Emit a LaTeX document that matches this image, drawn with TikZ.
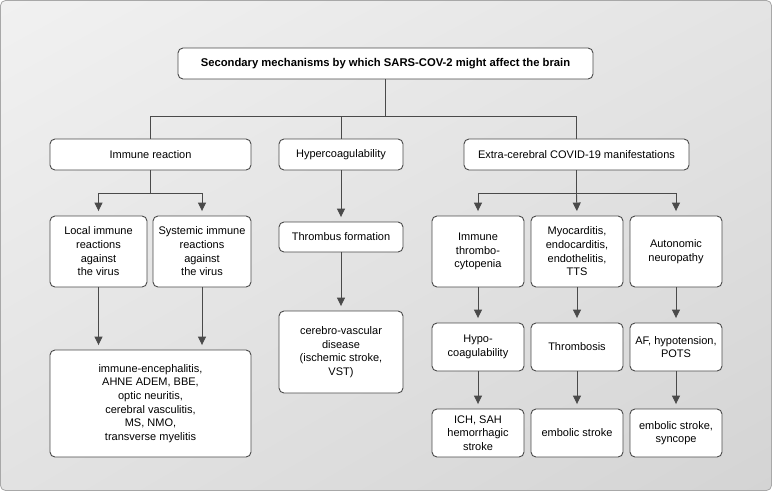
\documentclass[tikz,border=0pt]{standalone}
\usepackage{fontspec}
\setmainfont{Liberation Sans}
\usetikzlibrary{arrows.meta,shadings}
\definecolor{edge}{HTML}{4A4A4A}
\definecolor{bgul}{HTML}{F1F1F1}
\definecolor{bgur}{HTML}{E4E4E4}
\definecolor{bgll}{HTML}{E2E2E2}
\definecolor{bglr}{HTML}{D4D4D4}
\definecolor{frame}{HTML}{A8A8A8}
\tikzset{
  box/.style={draw=edge, line width=0.9pt, fill=white, rounded corners=5pt, align=center,
    inner sep=2pt, font=\fontsize{11}{13.7}\selectfont},
  ln/.style={draw=edge, line width=0.9pt},
  arr/.style={ln, -{Triangle[width=8pt,length=8.5pt]}, shorten >=4.5pt},
}
\begin{document}
\begin{tikzpicture}[x=1pt,y=-1pt]
\useasboundingbox (0,0) rectangle (772,491);
\shade[rounded corners=5pt, upper left=bgul, upper right=bgur, lower left=bgll, lower right=bglr]
  (0.5,0.5) rectangle (771.5,490.5);
\draw[rounded corners=5pt, draw=frame, line width=0.8pt] (0.5,0.5) rectangle (771.5,490.5);

\node[box, minimum width=415pt, minimum height=31pt, font=\fontsize{11.25}{13.7}\selectfont\bfseries] (top) at (385.5,63.5)
  {Secondary mechanisms by which SARS-COV-2 might affect the brain};

\node[box, minimum width=201pt, minimum height=31pt] (imm) at (150.5,154.5) {Immune reaction};
\node[box, minimum width=124pt, minimum height=31pt] (hyp) at (341,154.5) {Hypercoagulability};
\node[box, minimum width=225pt, minimum height=31pt] (ext) at (576.5,154.5) {Extra-cerebral COVID-19 manifestations};

\node[box, minimum width=97pt, minimum height=71pt] (loc) at (98.5,251.5) {Local immune\\reactions\\against\\the virus};
\node[box, minimum width=98pt, minimum height=71pt] (sys) at (202,251.5) {Systemic immune\\reactions\\against\\the virus};
\node[box, minimum width=201pt, minimum height=107pt] (out1) at (150.5,403.5)
  {immune-encephalitis,\\AHNE ADEM, BBE,\\optic neuritis,\\cerebral vasculitis,\\MS, NMO,\\transverse myelitis};

\node[box, minimum width=124pt, minimum height=30pt] (thr) at (341,237) {Thrombus formation};
\node[box, minimum width=124pt, minimum height=82pt] (cer) at (341,352) {cerebro-vascular\\disease\\(ischemic stroke,\\VST)};

\node[box, minimum width=92pt, minimum height=71pt] (a1) at (478,251.5) {Immune\\thrombo-\\cytopenia};
\node[box, minimum width=92pt, minimum height=71pt] (b1) at (577,251.5) {Myocarditis,\\endocarditis,\\endothelitis,\\TTS};
\node[box, minimum width=92pt, minimum height=71pt] (c1) at (676,251.5) {Autonomic\\neuropathy};

\node[box, minimum width=92pt, minimum height=48pt] (a2) at (478,347) {Hypo-\\coagulability};
\node[box, minimum width=92pt, minimum height=48pt] (b2) at (577,347) {Thrombosis};
\node[box, minimum width=92pt, minimum height=48pt] (c2) at (676,347) {AF, hypotension,\\POTS};

\node[box, minimum width=92pt, minimum height=48pt] (a3) at (478,433) {ICH, SAH\\hemorrhagic\\stroke};
\node[box, minimum width=92pt, minimum height=48pt] (b3) at (577,433) {embolic stroke};
\node[box, minimum width=92pt, minimum height=48pt] (c3) at (676,433) {embolic stroke,\\syncope};

\coordinate (j1) at (385.5,116.5);
\coordinate (j2) at (150.5,193);
\coordinate (j3) at (576.5,193);

\draw[ln] (top.south) -- (j1);
\draw[ln] (imm.north) |- (j1) -| (ext.north);
\draw[ln] (hyp.north) -- (hyp.north |- j1);

\draw[ln] (imm.south) -- (j2);
\draw[arr] (j2) -| (loc.north);
\draw[arr] (j2) -| (sys.north);
\draw[arr] (loc.south) -- (loc.south |- out1.north);
\draw[arr] (sys.south) -- (sys.south |- out1.north);

\draw[arr] (hyp.south) -- (thr.north);
\draw[arr] (thr.south) -- (cer.north);

\draw[ln] (ext.south) -- (j3);
\draw[arr] (j3) -| (a1.north);
\draw[arr] (j3) -- (b1.north);
\draw[arr] (j3) -| (c1.north);
\draw[arr] (a1.south) -- (a2.north);
\draw[arr] (b1.south) -- (b2.north);
\draw[arr] (c1.south) -- (c2.north);
\draw[arr] (a2.south) -- (a3.north);
\draw[arr] (b2.south) -- (b3.north);
\draw[arr] (c2.south) -- (c3.north);
\end{tikzpicture}
\end{document}
